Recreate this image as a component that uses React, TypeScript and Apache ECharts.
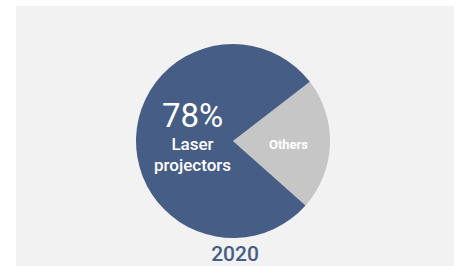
import React, { useEffect, useRef } from "react";
import * as echarts from "echarts";

const categories = ["Others", "Laser projectors"];
const values = [22, 78];
const pctLabels = ["", "78%"];
const nameLines = [["Others"], ["Laser", "projectors"]];
const yearLabel = "2020";

const BLUE = "#465d86";
const GRAY = "#c6c6c6";
const FONT = "Roboto";

export default function App() {
  const ref = useRef<HTMLDivElement>(null);
  useEffect(() => {
    document.body.style.margin = "0";
    const chart = echarts.init(ref.current!, null, { renderer: "svg" });
    chart.setOption({
      animation: false,
      backgroundColor: "#ffffff",
      graphic: [
        {
          type: "rect",
          shape: { x: 16, y: 6, width: 438, height: 262 },
          style: { fill: "#f2f2f2" },
          z: -10,
        },
      ],
      title: {
        text: yearLabel,
        left: 235,
        top: 243,
        padding: 0,
        textAlign: "center",
        textStyle: {
          color: BLUE,
          fontFamily: FONT,
          fontSize: 21,
          fontWeight: 500,
          lineHeight: 22,
        },
      },
      series: [
        {
          type: "pie",
          center: [233, 141],
          radius: 97,
          startAngle: 37.6,
          clockwise: true,
          silent: true,
          label: {
            show: true,
            position: "inside",
            color: "#ffffff",
            fontFamily: FONT,
            overflow: "none",
            formatter: (p: any) =>
              p.dataIndex === 1
                ? [`{pct|${pctLabels[1]}}`, ...nameLines[1].map((l) => `{name|${l}}`)].join("\n")
                : `{small|${nameLines[0][0]}}`,
            rich: {
              pct: { fontSize: 33, color: "#fff", fontFamily: FONT, lineHeight: 36 },
              name: { fontSize: 17, fontWeight: 500, color: "#fff", fontFamily: FONT, lineHeight: 21 },
              small: { fontSize: 13, fontWeight: "bold", color: "#fff", fontFamily: FONT },
            },
          },
          labelLine: { show: false },
          labelLayout: (p: any) =>
            p.dataIndex === 1 ? { dx: 11, dy: -3 } : { dx: 4, dy: 2 },
          itemStyle: { borderWidth: 0 },
          data: categories.map((c, i) => ({
            name: c,
            value: values[i],
            itemStyle: { color: i === 1 ? BLUE : GRAY },
          })),
        },
      ],
    });
    return () => chart.dispose();
  }, []);
  return <div ref={ref} style={{ width: 459, height: 266 }} />;
}
